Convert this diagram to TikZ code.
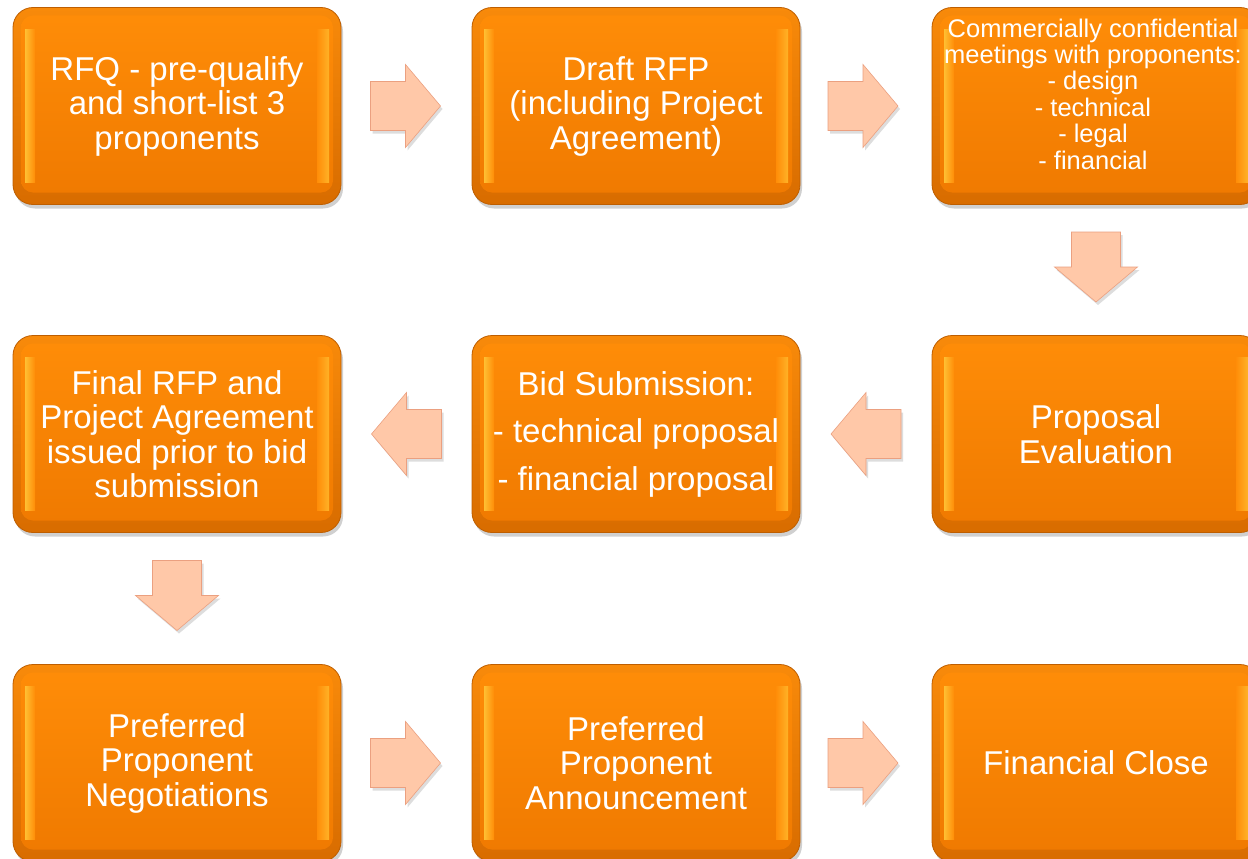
\documentclass[tikz,border=0pt]{standalone}
\usepackage{fontspec}
\setmainfont{Liberation Sans}
\usetikzlibrary{shadows,calc}
\definecolor{rimtop}{HTML}{F88A0A}
\definecolor{rimbot}{HTML}{D86C00}
\definecolor{facetop}{HTML}{FF8D08}
\definecolor{facebot}{HTML}{EF7900}
\definecolor{boxedge}{HTML}{BE5E00}
\definecolor{hl}{HTML}{FFD040}
\definecolor{arrowfill}{HTML}{FFC8A8}
\definecolor{arrowedge}{HTML}{EBA080}
\newcommand\mainsz{\fontsize{33}{34.5}\selectfont}
\newcommand\smallsz{\fontsize{25.5}{26.4}\selectfont}
\tikzset{
  box/.style={rounded corners=20pt, minimum width=328pt, minimum height=197pt,
    draw=boxedge, line width=0.8pt, top color=rimtop, bottom color=rimbot,
    text=white, align=center, font=\mainsz, inner sep=0pt,
    drop shadow={opacity=0.3, shadow xshift=2pt, shadow yshift=-4pt, fill=black!60},
    path picture={
      \shade[top color=facetop, bottom color=facebot, rounded corners=12pt]
        ([shift={(8pt,-8pt)}]path picture bounding box.north west) rectangle
        ([shift={(-8pt,12pt)}]path picture bounding box.south east);
      \shade[left color=hl!75!facetop, right color=facetop, sharp corners]
        ([shift={(12pt,-22pt)}]path picture bounding box.north west) rectangle
        ([shift={(22pt,22pt)}]path picture bounding box.south west);
      \shade[left color=facetop, right color=hl!55!facetop, sharp corners]
        ([shift={(-24pt,-22pt)}]path picture bounding box.north east) rectangle
        ([shift={(-12pt,22pt)}]path picture bounding box.south east);
    }},
  boxtext/.style={text=white, align=center, font=\smallsz, inner sep=0pt},
  blockarrow/.style={draw=arrowedge, fill=arrowfill, line width=0.6pt, line join=miter,
    drop shadow={opacity=0.22, shadow xshift=2pt, shadow yshift=-3pt, fill=black!60}},
  barrow/.pic={\path[blockarrow] (-35,-24.5) -- (0,-24.5) -- (0,-41.5) -- (35,0)
     -- (0,41.5) -- (0,24.5) -- (-35,24.5) -- cycle;}
}
\begin{document}
\begin{tikzpicture}[x=1pt,y=-1pt]
\useasboundingbox[fill=white] (0,0) rectangle (1248,859);
% row 1
\node[box] (b1) at (177,106) {RFQ - pre-qualify\\and short-list 3\\proponents};
\node[box] (b2) at (636,106) {Draft RFP\\(including Project\\Agreement)};
\node[box] (b3) at (1096,106) {};
\node[boxtext] (b3t) at (1093,94) {Commercially confidential\\meetings with proponents:\\- design\\- technical\\- legal\\- financial};
% row 2
\node[box] (b4) at (177,434) {Final RFP and\\Project Agreement\\issued prior to bid\\submission};
\node[box] (b5) at (636,434) {Bid Submission:\\[13pt]- technical proposal\\[13pt]- financial proposal};
\node[box] (b6) at (1096,434) {Proposal\\Evaluation};
% row 3
\node[box] (b7) at (177,763) {Preferred\\Proponent\\Negotiations};
\node[box] (b8) at (636,763) {Preferred\\Proponent\\Announcement};
\node[box] (b9) at (1096,763) {Financial Close};
% block arrows between boxes
\coordinate (a1) at ($(b1.east)!0.5!(b2.west)+(-1,0)$);
\coordinate (a2) at ($(b2.east)!0.5!(b3.west)+(-3,0)$);
\coordinate (a3) at ($(b3.south)!0.5!(b6.north)+(0,-3)$);
\coordinate (a4) at ($(b6.west)!0.5!(b5.east)$);
\coordinate (a5) at ($(b5.west)!0.5!(b4.east)$);
\coordinate (a6) at ($(b4.south)!0.5!(b7.north)+(0,-3)$);
\coordinate (a7) at ($(b7.east)!0.5!(b8.west)+(-1,0)$);
\coordinate (a8) at ($(b8.east)!0.5!(b9.west)+(-3,0)$);
\pic at (a1) {barrow};
\pic at (a2) {barrow};
\pic[rotate=-90] at (a3) {barrow};
\pic[rotate=180] at (a4) {barrow};
\pic[rotate=180] at (a5) {barrow};
\pic[rotate=-90] at (a6) {barrow};
\pic at (a7) {barrow};
\pic at (a8) {barrow};
\end{tikzpicture}
\end{document}
